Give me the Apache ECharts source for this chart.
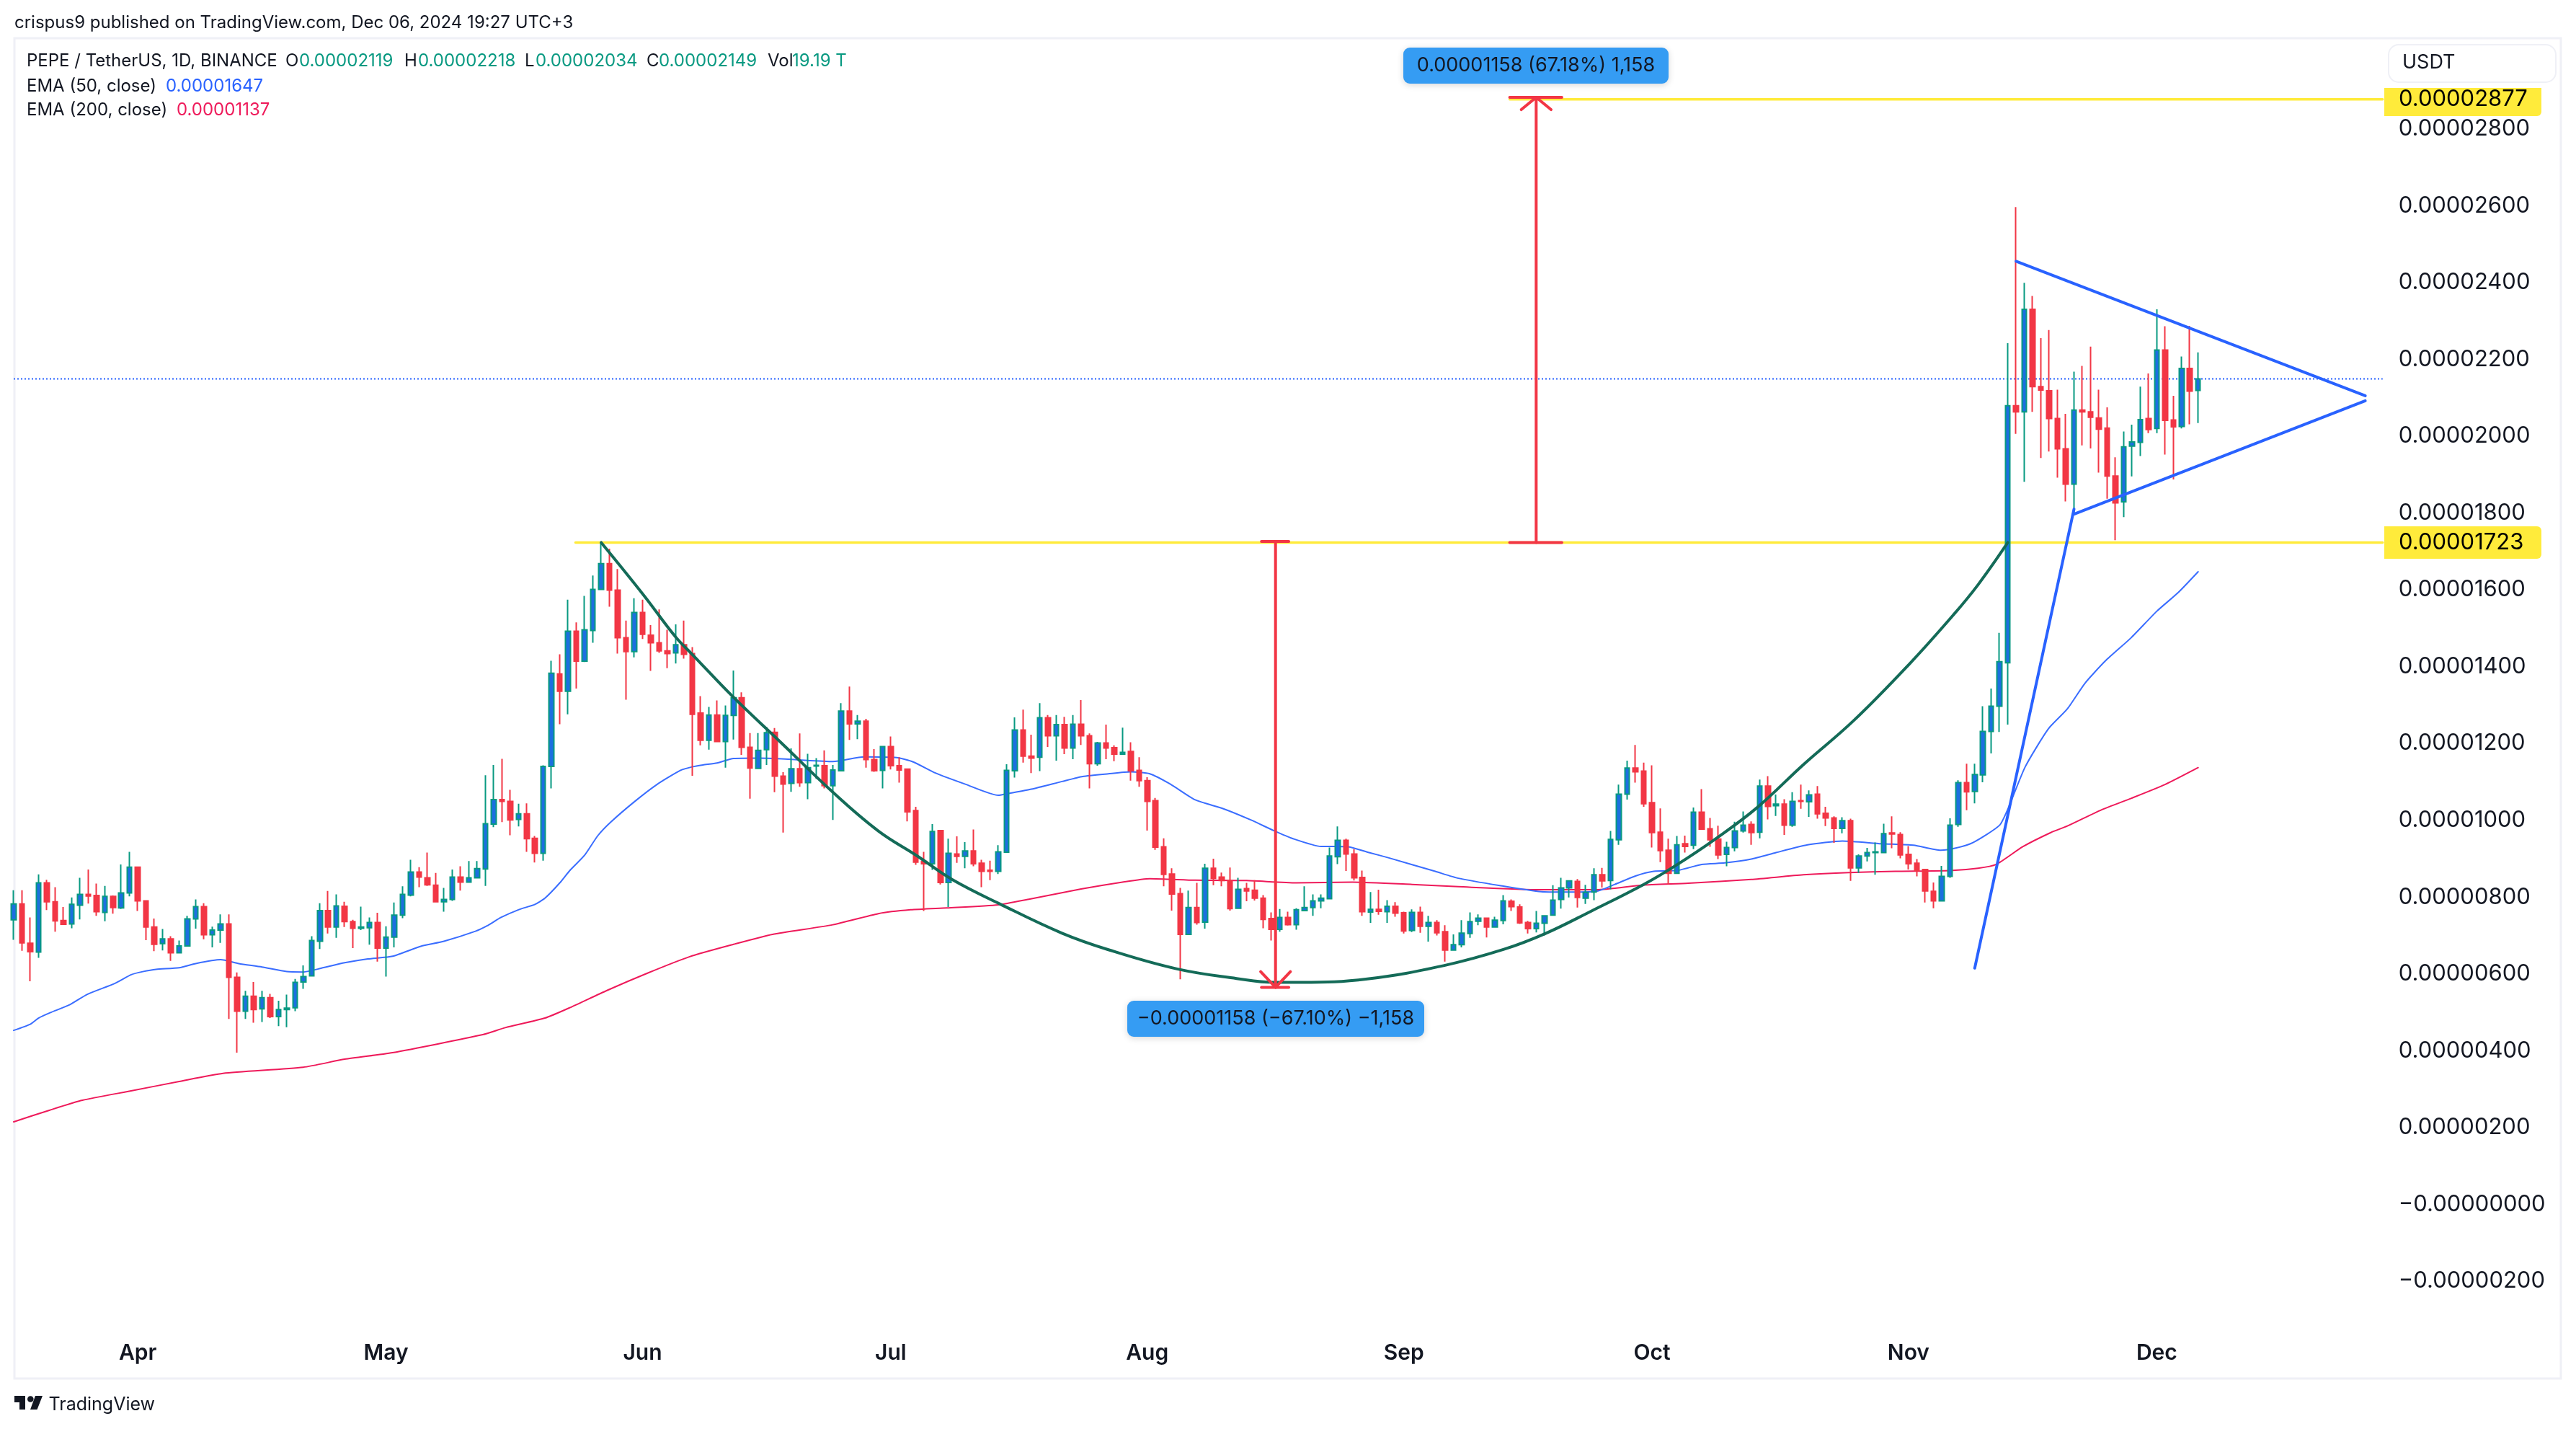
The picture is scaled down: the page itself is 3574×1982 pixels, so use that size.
<!DOCTYPE html>
<html>
<head>
<meta charset="utf-8">
<title>PEPE / TetherUS</title>
<style>html,body{margin:0;padding:0;background:#fff}#c{width:3574px;height:1982px}</style>
<script src="https://cdn.jsdelivr.net/npm/echarts@6/dist/echarts.min.js"></script>
</head>
<body>
<div id="c"></div>
<script>
// All prices are in units of 0.00000001 USDT. Bar 0 is 2024-03-17, one bar per day.
const startDate = [2024, 2, 17];
const barCountWithRightMargin = 288;
const monthNames = ['Jan','Feb','Mar','Apr','May','Jun','Jul','Aug','Sep','Oct','Nov','Dec'];

const opens = [
741,782,680,657,837,788,739,730,779,807,
804,760,802,772,811,878,790,722,679,691,
655,673,743,775,702,714,730,591,503,542,
509,538,489,507,512,579,595,685,765,722,
776,736,719,720,734,667,696,753,805,865,
850,831,788,794,852,839,850,873,990,1054,
1049,1002,1017,953,914,1140,1381,1336,1492,1414,
1494,1601,1668,1599,1475,1439,1541,1482,1462,1441,
1436,1457,1434,1279,1208,1274,1205,1273,1319,1190,
1135,1184,1229,1115,1096,1134,1098,1141,1142,1090,
1129,1284,1251,1258,1158,1130,1192,1142,1133,1025,
893,887,973,838,912,906,920,888,870,867,
917,1129,1235,1167,1164,1267,1220,1249,1188,1250,
1220,1147,1201,1189,1172,1179,1130,1103,1051,931,
860,809,703,773,735,875,852,843,771,822,
818,797,744,716,747,728,765,773,790,796,
905,948,912,851,761,768,762,776,759,713,
760,724,734,710,662,676,705,737,745,722,
739,789,774,734,718,732,753,794,824,841,
797,813,858,843,949,1068,1136,1128,1046,969,
922,862,939,935,1021,978,951,911,929,972,
989,969,1089,1038,1042,987,1051,1048,1068,1018,
1006,979,999,876,907,916,916,967,963,911,
888,872,815,790,854,989,1098,1075,1118,1231,
1297,1410,2079,2063,2330,2129,2118,2046,1967,1875,
2068,2063,2047,2021,1896,1829,1974,1984,2046,2020,
2224,2042,2025,2176,2119];

const closes = [
782,681,658,837,788,738,729,781,807,803,
762,802,773,811,878,790,722,677,691,655,
673,743,775,702,714,730,591,503,542,507,
538,489,507,511,578,593,687,765,722,777,
736,719,722,734,667,696,753,807,865,852,
832,788,794,852,839,850,874,991,1054,1049,
1001,1017,952,914,1140,1383,1336,1492,1414,1496,
1601,1668,1599,1475,1439,1541,1484,1462,1441,1434,
1457,1432,1276,1208,1274,1205,1273,1319,1190,1136,
1182,1228,1115,1094,1134,1098,1137,1143,1090,1131,
1284,1251,1258,1158,1129,1192,1142,1131,1022,891,
887,971,838,914,906,920,887,867,867,918,
1130,1235,1167,1162,1267,1220,1249,1188,1250,1220,
1147,1201,1188,1172,1177,1129,1103,1049,930,859,
808,703,773,734,875,849,843,770,820,816,
797,742,716,747,728,767,773,790,797,907,
948,912,850,762,768,763,776,758,712,760,
724,734,707,662,676,706,736,745,722,740,
790,775,733,718,732,751,792,824,842,799,
812,858,842,950,1068,1136,1126,1043,968,921,
862,936,932,1021,977,949,910,929,972,987,
968,1089,1036,1042,987,1049,1049,1066,1017,1006,
979,999,876,907,916,918,965,964,910,887,
869,816,790,854,987,1098,1074,1119,1231,1297,
1413,2079,2063,2330,2129,2120,2046,1967,1875,2068,
2063,2049,2018,1896,1826,1972,1985,2043,2017,2224,
2041,2024,2176,2117,2149];

const lows = [
689,660,581,642,766,710,729,719,742,783,
751,737,757,769,802,764,688,659,661,634,
653,672,718,690,669,681,483,395,483,473,
475,485,464,461,503,561,593,665,705,694,
722,667,714,676,632,593,669,745,802,826,
829,788,762,790,817,837,849,829,982,995,
961,984,918,890,895,1083,1250,1276,1343,1412,
1462,1599,1556,1434,1314,1424,1472,1389,1436,1396,
1408,1421,1116,1195,1184,1204,1137,1210,1170,1056,
1134,1144,1073,968,1074,1087,1055,1108,1083,1001,
1128,1209,1211,1137,1126,1083,1132,1098,997,884,
764,871,833,774,889,875,880,826,844,860,
915,1111,1150,1123,1128,1191,1155,1172,1159,1196,
1083,1142,1159,1154,1170,1103,1087,973,923,828,
765,586,703,728,718,831,828,765,769,789,
791,719,687,710,726,715,764,751,771,794,
886,868,843,751,733,754,733,749,705,709,
707,684,700,632,660,669,694,727,695,720,
729,764,730,705,708,700,752,770,799,773,
782,792,825,820,936,1054,1098,1035,929,891,
833,861,916,925,977,931,899,880,919,968,
936,953,1002,1011,962,983,1030,1009,1004,985,
941,966,842,863,893,858,914,927,901,872,
854,786,771,790,850,983,1026,1044,1099,1174,
1230,1249,2006,1881,2063,1943,1960,1892,1830,1800,
1976,1968,1905,1837,1729,1789,1895,1948,2008,2008,
1952,1887,2020,2031,2034];

const highs = [
818,818,747,859,845,826,774,799,850,872,
835,829,804,885,918,878,792,744,717,698,
687,751,794,784,723,755,755,604,556,579,
556,548,530,546,587,622,698,784,816,807,
788,741,775,747,759,724,786,828,897,878,
916,863,824,872,880,894,894,1117,1144,1160,
1079,1043,1044,959,1143,1415,1432,1574,1515,1584,
1637,1723,1707,1654,1520,1578,1574,1508,1549,1496,
1510,1520,1451,1323,1295,1312,1299,1390,1333,1227,
1227,1243,1240,1125,1187,1226,1173,1162,1182,1144,
1305,1348,1274,1264,1185,1193,1218,1164,1134,1035,
918,990,974,952,958,943,976,897,895,935,
1146,1268,1288,1223,1305,1274,1274,1269,1274,1313,
1226,1204,1249,1195,1241,1203,1164,1112,1058,953,
875,824,817,837,887,900,864,877,850,837,
844,805,760,769,762,771,828,807,807,929,
984,952,925,869,813,819,792,787,762,768,
775,751,740,727,703,740,760,755,747,749,
805,794,781,738,764,753,831,850,844,847,
832,875,876,972,1093,1155,1196,1150,1143,1031,
952,959,960,1033,1081,1006,986,944,996,1023,
997,1106,1115,1067,1055,1073,1093,1078,1089,1035,
1010,1008,1004,911,928,942,991,1010,969,933,
899,872,838,881,1005,1104,1147,1147,1297,1343,
1488,2242,2596,2399,2365,2255,2276,2121,2058,2168,
2183,2233,2121,2075,1945,2012,2030,2129,2163,2330,
2286,2105,2207,2287,2218];

// Moving averages: [bar, value]
const ema50 = [[0,453],[2,469],[3,485],[4.4,499],[6.7,519],[8.9,547],[12.2,575],[14.2,598],[15.6,606],[17.2,612],[20,616],[22,627],[25,637],[27.2,627],[30,618],[33,606],[35,605],[37.2,615],[40,629],[42.8,639],[45.8,646],[49.2,672],[52,685],[55.8,711],[57.2,725],[58.9,747],[61,767],[63,781],[64.2,797],[66,837],[67.2,869],[69,909],[70.6,960],[72.2,996],[75,1048],[77.8,1094],[80.6,1130],[82,1139],[83.3,1144],[85,1149],[87,1161],[90,1162],[92.8,1160],[95,1157],[99,1153],[102.8,1165],[106.7,1163],[108.7,1152],[111.4,1123],[115,1094],[119,1065],[120,1069],[123,1081],[126.7,1101],[129.2,1114],[132.3,1121],[135,1126],[137.3,1121],[139.8,1094],[142.8,1053],[146.2,1030],[149.5,1001],[152.3,973],[154.5,953],[158,932],[159.5,932],[161.3,931],[163.8,916],[166.2,902],[171.8,867],[174.6,849],[179.6,830],[184.6,814],[187.4,813],[191.3,815],[193.5,833],[196,855],[198.2,867],[201.2,870],[204,885],[206.8,889],[210,899],[213,916],[216.8,936],[221,946],[225.7,939],[229.6,935],[232.9,922],[234.6,927],[236.8,942],[240,987],[241.1,1034],[243.1,1139],[245.9,1238],[248.2,1290],[250.3,1356],[252.8,1415],[255.9,1475],[259,1544],[261.6,1593],[264,1647]];
const ema200 = [[0,215],[4.3,245],[8.3,271],[14.3,296],[20,320],[25.3,341],[35,357],[40,378],[45.8,395],[56.7,442],[59.4,460],[64.2,485],[67.2,512],[71.7,557],[76.7,603],[81.7,645],[87,677],[91.7,703],[99,728],[104.5,757],[108.4,767],[112.8,772],[119,780],[122.8,795],[129,821],[134,839],[137.3,848],[142.8,844],[149,843],[155,837],[161.8,839],[169,833],[174.6,827],[184.6,819],[191.3,819],[196.8,831],[202.4,836],[210,846],[216.3,858],[221.8,864],[227.4,867],[234,869],[237.4,875],[239.6,885],[242.8,931],[246.2,968],[248.2,985],[252.3,1027],[255.9,1057],[260,1093],[264,1137]];

// Chart drawings, [bar, price]
const cupCurve = [[71,1723],[76.1,1587],[80,1477],[82,1432],[87,1320],[92.6,1205],[99,1073],[104.5,972],[109.2,907],[113.4,846],[119.2,782],[126.7,706],[132.3,663],[140.6,613],[147.8,588],[152.3,578],[155.6,578],[163.6,587],[172.9,622],[180.1,664],[185.1,705],[190.7,764],[197,833],[200.7,880],[205.7,952],[210.7,1033],[216.3,1145],[222.4,1260],[229.2,1409],[234.4,1534],[237.4,1613],[241,1723]];
const flagPole = [[237,615],[249,1810]];
const pennantLower = [[249,1797],[284.2,2092]];
const pennantUpper = [[242,2455],[284.2,2105]];
const neckline = [[67.9,1723],[286.3,1723]];
const targetLine = [[180.8,2877],[286.3,2877]];
const lastPriceLine = [[0,2149],[286.3,2149]];
const downArrow = [[152.5,1726],[152.5,565]];
const downCapTop = [[150.8,1726],[154.1,1726]];
const downCapBottom = [[150.8,565],[154.1,565]];
const downHead = [[150.7,606],[152.5,565],[154.3,606]];
const upArrow = [[184,1723],[184,2882]];
const upCapBottom = [[180.8,1723],[187.1,1723]];
const upCapTop = [[180.8,2882],[187.1,2882]];
const upHead = [[182.2,2850],[184,2882],[185.8,2850]];

const yTicks = {min:-400, max:3000, step:200};

const lengths = [opens.length, closes.length, lows.length, highs.length];
if (lengths.some(n => n !== 265)) throw new Error('bad lengths ' + lengths.join(','));

const categories = [];
for (let i = 0; i < barCountWithRightMargin; i++) {
  const d = new Date(Date.UTC(startDate[0], startDate[1], startDate[2] + i));
  categories.push(d.toISOString().slice(0,10));
}

const FONT = 'Inter';
const INK = '#131722';
const GREEN = '#089981', RED = '#f23645', BLUE = '#2962ff', PINK = '#ee1a5a';
const YELLOW = '#ffeb3b', TAGBLUE = '#359cf3', BORDER = '#eff0f6';

const priceText = v => (v <= 0 ? '\u2212' : '') + (Math.abs(v) / 1e8).toFixed(8);

function lineSeries(name, pts, color, width, z, extra) {
  return Object.assign({
    name, type:'line', data:pts, xAxisIndex:1, yAxisIndex:0,
    symbol:'none', silent:true, z, clip:true, animation:false,
    lineStyle:{color, width, cap:'round', join:'round'}
  }, extra || {});
}

const txt = (text, x, y, fill, size, weight, align) => ({
  type:'text', x, y, z:50, silent:true,
  style:{text, fill, fontFamily:FONT, fontSize:size, fontWeight:weight||400, textAlign:align||'left', textVerticalAlign:'middle'}
});
const LEG = 24;
const graphics = [
  {type:'rect', z:-1, silent:true, shape:{x:20,y:53,width:3533,height:1859}, style:{fill:'none', stroke:BORDER, lineWidth:3}},
  txt('crispus9 published on TradingView.com, Dec 06, 2024 19:27 UTC+3', 20, 32, INK, 24),
  txt('PEPE / TetherUS, 1D, BINANCE', 37, 85, INK, LEG),
  txt('O', 396, 85, INK, LEG), txt('0.00002119', 415, 85, GREEN, LEG),
  txt('H', 561, 85, INK, LEG), txt('0.00002218', 580, 85, GREEN, LEG),
  txt('L', 728, 85, INK, LEG), txt('0.00002034', 743, 85, GREEN, LEG),
  txt('C', 897, 85, INK, LEG), txt('0.00002149', 914, 85, GREEN, LEG),
  txt('Vol', 1065, 85, INK, LEG), txt('19.19 T', 1099, 85, GREEN, LEG),
  txt('EMA (50, close)', 37, 120, INK, LEG), txt('0.00001647', 230, 120, BLUE, LEG),
  txt('EMA (200, close)', 37, 153, INK, LEG), txt('0.00001137', 245, 153, PINK, LEG),
  {type:'rect', z:49, silent:true, shape:{x:3314,y:62,width:232,height:52,r:14}, style:{fill:'#fff', stroke:BORDER, lineWidth:2}},
  txt('USDT', 3333, 87, INK, 27),
  {type:'rect', z:49, silent:true, shape:{x:3308,y:122,width:218,height:39,r:[0,0,6,0]}, style:{fill:YELLOW}},
  txt('0.00002877', 3328, 138, '#000', 31),
  {type:'rect', z:49, silent:true, shape:{x:3308,y:730,width:218,height:45,r:[0,6,6,0]}, style:{fill:YELLOW}},
  txt('0.00001723', 3328, 753, '#000', 31),
  {type:'rect', z:49, silent:true, shape:{x:1947,y:66,width:368,height:50,r:9}, style:{fill:TAGBLUE, shadowBlur:10, shadowColor:'rgba(0,0,0,0.16)', shadowOffsetY:2}},
  txt('0.00001158 (67.18%) 1,158', 2131, 91, INK, 27, 400, 'center'),
  {type:'rect', z:49, silent:true, shape:{x:1564,y:1388,width:412,height:50,r:9}, style:{fill:TAGBLUE, shadowBlur:10, shadowColor:'rgba(0,0,0,0.16)', shadowOffsetY:2}},
  txt('\u22120.00001158 (\u221267.10%) \u22121,158', 1770, 1413, INK, 27, 400, 'center'),
  {type:'polygon', z:50, silent:true, shape:{points:[[20,1936],[35,1936],[35,1955],[27,1955],[27,1945],[20,1945]]}, style:{fill:INK}},
  {type:'circle', z:50, silent:true, shape:{cx:42.3,cy:1940.5,r:4.3}, style:{fill:INK}},
  {type:'polygon', z:50, silent:true, shape:{points:[[49,1936],[59,1936],[51.5,1955],[42,1955]]}, style:{fill:INK}},
  txt('TradingView', 67.5, 1948, INK, 25)
];

const option = {
  animation:false,
  backgroundColor:'#ffffff',
  grid:{left:19, top:72.1, width:3294.76, height:1811.5, containLabel:false, show:false},
  xAxis:[
    {type:'category', data:categories, boundaryGap:false, gridIndex:0,
     axisLine:{show:false}, axisTick:{show:false}, splitLine:{show:false},
     axisLabel:{
       margin:-22, color:INK, fontFamily:FONT, fontSize:30, fontWeight:600, hideOverlap:false,
       interval:(i, v) => v.slice(8) === '01',
       formatter:v => monthNames[+v.slice(5,7) - 1]
     }},
    {type:'value', min:0, max:barCountWithRightMargin - 1, gridIndex:0, show:false, splitLine:{show:false}}
  ],
  yAxis:[{
    type:'value', position:'right', min:yTicks.min, max:yTicks.max, interval:yTicks.step,
    axisLine:{show:false}, axisTick:{show:false}, splitLine:{show:false},
    axisLabel:{
      margin:14, color:INK, fontFamily:FONT, fontSize:31, align:'left',
      showMinLabel:true, showMaxLabel:true,
      formatter:v => (v === yTicks.min || v === yTicks.max) ? '' : priceText(v)
    }
  }],
  series:[
    lineSeries('Target', targetLine, YELLOW, 3.5, 1),
    lineSeries('Neckline', neckline, YELLOW, 3.5, 1),
    lineSeries('Last price', lastPriceLine, BLUE, 2, 1, {lineStyle:{color:BLUE, width:2, type:[2,3]}}),
    lineSeries('EMA 200', ema200, PINK, 2, 2, {smooth:0.2}),
    lineSeries('EMA 50', ema50, '#3a6dff', 2, 2, {smooth:0.2}),
    {
      name:'PEPE / TetherUS', type:'candlestick', xAxisIndex:0, yAxisIndex:0, z:3, silent:true, animation:false,
      barWidth:7, clip:true,
      data:opens.map((o, i) => [o, closes[i], lows[i], highs[i]]),
      itemStyle:{color:'#1c6fe0', color0:RED, borderColor:GREEN, borderColor0:RED, borderWidth:2}
    },
    lineSeries('Cup', cupCurve, '#146b58', 4, 4, {smooth:0.4}),
    lineSeries('Flag pole', flagPole, BLUE, 4, 4),
    lineSeries('Pennant lower', pennantLower, BLUE, 4, 4),
    lineSeries('Pennant upper', pennantUpper, BLUE, 4, 4),
    lineSeries('Down arrow', downArrow, RED, 4, 5),
    lineSeries('Down cap top', downCapTop, RED, 4, 5),
    lineSeries('Down cap bottom', downCapBottom, RED, 4, 5),
    lineSeries('Down head', downHead, RED, 4, 5),
    lineSeries('Up arrow', upArrow, RED, 4, 5),
    lineSeries('Up cap bottom', upCapBottom, RED, 4, 5),
    lineSeries('Up cap top', upCapTop, RED, 4, 5),
    lineSeries('Up head', upHead, RED, 4, 5)
  ],
  graphic:{elements:graphics}
};

const chart = echarts.init(document.getElementById('c'), null, {renderer:'canvas', devicePixelRatio:1});
chart.setOption(option);
</script>
</body>
</html>
